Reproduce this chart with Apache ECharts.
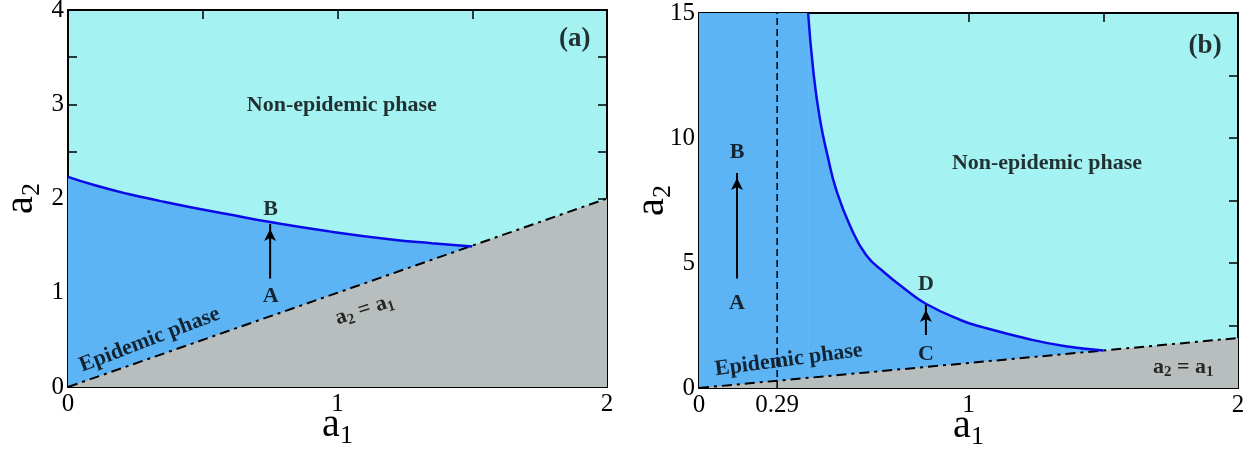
<!DOCTYPE html>
<html>
<head>
<meta charset="utf-8">
<script src="https://cdn.jsdelivr.net/npm/echarts@6/dist/echarts.min.js"></script>
<style>
  html, body { margin: 0; padding: 0; background: #fff; }
  #chart { width: 1255px; height: 452px; }
</style>
</head>
<body>
<div id="chart"></div>
<script>
// ==================== 数据 ====================

// (a) 相界曲线 [a1, a2]
const boundaryA = [
  [0, 2.23], [0.1, 2.14], [0.22, 2.05], [0.34, 1.975], [0.46, 1.905], [0.6, 1.83],
  [0.75, 1.75], [0.96, 1.655], [1.2, 1.565], [1.35, 1.525], [1.5, 1.49]
];
// (b) 相界曲线 [a1, a2]
const boundaryB = [
  [0.405, 15], [0.423, 12.8], [0.448, 10.8], [0.479, 9.2], [0.51, 7.9], [0.56, 6.5],
  [0.62, 5.32], [0.69, 4.6], [0.77, 3.91], [0.84, 3.38], [0.97, 2.72], [1.04, 2.47],
  [1.23, 1.94], [1.36, 1.67], [1.5, 1.5]
];
// 对角线 a2 = a1
const diagonal = [[0, 0], [2, 2]];
// (b) 中的竖直虚线 a1 = 0.29
const cutLine = [[0.29, 0], [0.29, 15]];

// 箭头 A→B, C→D（起点，终点）
const arrowsA = [[[0.75, 1.15], [0.75, 1.73]]];
const arrowsB = [[[0.141, 4.38], [0.141, 8.6]], [[0.842, 2.12], [0.842, 3.32]]];

// 刻度
const xTicksA = [0.5, 1, 1.5];
const yTicksA = [0.5, 1, 1.5, 2, 2.5, 3, 3.5];
const xLabelsB = [0, 0.29, 1, 2];
const xTicksB = [0.29, 1, 1.5];
const yTicksB = [2.5, 5, 7.5, 10, 12.5];

// 注释文字 [文本, a1, a2, 旋转角]
const notesA = [
  ['Non-epidemic phase', 1.016, 2.99, 0],
  ['(a)', 1.88, 3.69, 0],
  ['B', 0.752, 1.885, 0],
  ['A', 0.752, 0.96, 0],
  ['Epidemic phase', 0.303, 0.5, 21],
  ['a2 = a1', 1.10, 0.82, 18]
];
const notesB = [
  ['Non-epidemic phase', 1.291, 8.98, 0],
  ['(b)', 1.878, 13.69, 0],
  ['B', 0.141, 9.42, 0],
  ['A', 0.141, 3.39, 0],
  ['D', 0.842, 4.15, 0],
  ['C', 0.842, 1.36, 0],
  ['Epidemic phase', 0.333, 1.12, 7.5],
  ['a2 = a1', 1.797, 0.84, 0]
];

// ==================== 样式 ====================

const FONT = '"Liberation Serif", "Times New Roman", serif';
const CYAN = '#a5f2f2';
const BLUE = '#5db4f5';
const GRAY = '#b8bebd';
const CURVE = '#0a0ae8';

const nameRich = {
  a: { fontFamily: FONT, fontSize: 40, color: '#000', lineHeight: 40 },
  s: { fontFamily: FONT, fontSize: 26, color: '#000', lineHeight: 26, padding: [22, 0, 0, 0] }
};
const noteRich = {
  b: { fontFamily: FONT, fontSize: 22, fontWeight: 'bold', color: '#000', lineHeight: 24 },
  p: { fontFamily: FONT, fontSize: 27, fontWeight: 'bold', color: '#000', lineHeight: 28 },
  s: { fontFamily: FONT, fontSize: 15, fontWeight: 'bold', color: '#000', lineHeight: 15, padding: [11, 0, 0, 0] }
};

function noteText(t) {
  if (t === 'a2 = a1') return '{b|a}{s|2}{b| = a}{s|1}';
  if (t.charAt(0) === '(') return '{p|' + t + '}';
  return '{b|' + t + '}';
}

function xAxis(grid, pos, max, ticks, labelVals, interval) {
  const bottom = pos === 'bottom';
  return {
    gridIndex: grid, type: 'value', position: pos, min: 0, max: max, interval: interval,
    axisLine: { show: true, onZero: false, lineStyle: { color: '#000', width: 2 } },
    axisTick: { show: true, inside: true, length: 9, customValues: ticks, lineStyle: { color: '#000', width: 1.5 } },
    axisLabel: {
      show: bottom, fontFamily: FONT, fontSize: 25, color: '#000', margin: 5,
      customValues: labelVals
    },
    splitLine: { show: false },
    name: bottom ? '{a|a}{s|1}' : '',
    nameLocation: 'middle', nameGap: 18, nameMoveOverlap: false,
    nameTextStyle: { rich: nameRich }
  };
}

function yAxis(grid, pos, max, interval, ticks) {
  const left = pos === 'left';
  return {
    gridIndex: grid, type: 'value', position: pos, min: 0, max: max, interval: interval,
    axisLine: { show: true, onZero: false, lineStyle: { color: '#000', width: 2 } },
    axisTick: { show: true, inside: true, length: 9, customValues: ticks, lineStyle: { color: '#000', width: 1.5 } },
    axisLabel: { show: left, fontFamily: FONT, fontSize: 25, color: '#000', margin: 4 },
    splitLine: { show: false },
    name: left ? '{a|a}{s|2}' : '',
    nameLocation: 'middle', nameGap: 27, nameRotate: 90, nameMoveOverlap: false,
    nameTextStyle: { rich: nameRich }
  };
}

// 箭头：折线两点，终点画箭头符号
function arrowSeries(ax, coords) {
  return Object.assign({
    type: 'line', silent: true, showSymbol: true, symbolSize: [9, 12], z: 5,
    lineStyle: { color: '#000', width: 2 },
    itemStyle: { color: '#000' },
    data: [
      { value: coords[0], symbol: 'none' },
      { value: coords[1], symbol: 'arrow', symbolOffset: [0, 5] }
    ]
  }, ax);
}

// 面板内的系列
function panelSeries(idx, boundary, arrows, notes, extraFill, cut) {
  const ax = { xAxisIndex: idx * 2, yAxisIndex: idx * 2 };
  const list = [];
  if (extraFill) {
    list.push(Object.assign({
      type: 'line', data: extraFill, symbol: 'none', silent: true, z: 1,
      lineStyle: { width: 0 }, areaStyle: { color: BLUE, opacity: 1 }
    }, ax));
  }
  list.push(Object.assign({
    type: 'line', data: boundary, symbol: 'none', smooth: 0.5, silent: true, z: 1,
    lineStyle: { width: 0 }, areaStyle: { color: BLUE, opacity: 1 }
  }, ax));
  list.push(Object.assign({
    type: 'line', data: diagonal, symbol: 'none', silent: true, z: 2,
    lineStyle: { color: '#000', width: 2, type: [10, 5, 3, 5] },
    areaStyle: { color: GRAY, opacity: 1 }
  }, ax));
  if (cut) {
    list.push(Object.assign({
      type: 'line', data: cut, symbol: 'none', silent: true, z: 3,
      lineStyle: { color: '#000', width: 1.5, type: [7, 4] }
    }, ax));
  }
  list.push(Object.assign({
    type: 'line', data: boundary, symbol: 'none', smooth: 0.5, silent: true, z: 4,
    lineStyle: { color: CURVE, width: 2.5 }
  }, ax));
  arrows.forEach(c => list.push(arrowSeries(ax, c)));
  list.push(Object.assign({
    type: 'scatter', silent: true, symbolSize: 1, z: 10, itemStyle: { color: 'transparent' },
    data: notes.map(n => ({
      value: [n[1], n[2]],
      label: {
        show: true, position: 'inside', rotate: n[3], color: '#000', textBorderWidth: 0,
        formatter: noteText(n[0]), rich: noteRich
      }
    }))
  }, ax));
  return list;
}

const seriesA = panelSeries(0, boundaryA, arrowsA, notesA, null, null);
const seriesB = panelSeries(1, boundaryB, arrowsB, notesB, [[0, 15], [0.406, 15]], cutLine);

const option = {
  animation: false,
  grid: [
    { left: 68, top: 10, width: 539, height: 377, show: true, backgroundColor: CYAN, borderWidth: 0, outerBoundsMode: 'none' },
    { left: 699, top: 13, width: 539, height: 375, show: true, backgroundColor: CYAN, borderWidth: 0, outerBoundsMode: 'none' }
  ],
  xAxis: [
    xAxis(0, 'bottom', 2, xTicksA, null, 1),
    xAxis(0, 'top', 2, xTicksA, null, 1),
    xAxis(1, 'bottom', 2, xTicksB, xLabelsB, 1),
    xAxis(1, 'top', 2, xTicksB, null, 1)
  ],
  yAxis: [
    yAxis(0, 'left', 4, 1, yTicksA),
    yAxis(0, 'right', 4, 1, yTicksA),
    yAxis(1, 'left', 15, 5, yTicksB),
    yAxis(1, 'right', 15, 5, yTicksB)
  ],
  series: seriesA.concat(seriesB)
};

const chart = echarts.init(document.getElementById('chart'), null, { renderer: 'canvas' });
chart.setOption(option);
</script>
</body>
</html>
